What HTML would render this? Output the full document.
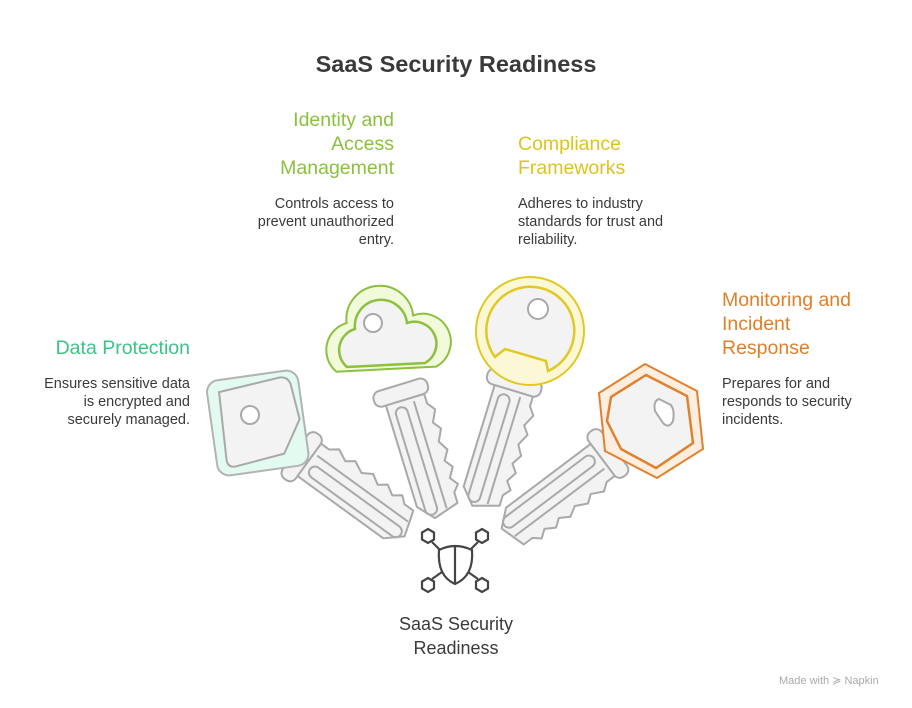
<!DOCTYPE html>
<html><head><meta charset="utf-8"><style>
html,body{margin:0;padding:0;background:#fff;}
body{width:912px;height:708px;position:relative;overflow:hidden;font-family:"Liberation Sans",sans-serif;}
.t{position:absolute;white-space:nowrap;}
.h{font-size:19.5px;line-height:24px;}
.b{font-size:14.5px;line-height:18px;color:#3a3a3a;}
.r{text-align:right;}
</style></head><body>
<svg width="912" height="708" style="position:absolute;left:0;top:0">
<defs>
<g id="shaft">
<rect x="-28" y="46" width="56" height="16" rx="7" fill="#f3f3f3" stroke="#a9a9a9" stroke-width="2"/>
<path d="M-18,62 L-18,168 L-4,184 L22,176 L22,165 L28,158 L22,150 L28,140 L22,132 L28,122 L22,112 L28,100 L22,92 L28,80 L22,72 L22,62 Z" fill="#f3f3f3" stroke="#a9a9a9" stroke-width="2" stroke-linejoin="round"/>
<rect x="-11" y="68" width="12" height="112" rx="6" fill="none" stroke="#a9a9a9" stroke-width="2"/>
<line x1="10" y1="66" x2="10" y2="178" stroke="#a9a9a9" stroke-width="2"/>
</g>
</defs>
<g transform="translate(258,425) rotate(-54)">
<use href="#shaft"/>
<g transform="rotate(54)">
<rect x="-46" y="-50" width="92" height="96" rx="12" fill="#e2faef" stroke="#b3b3b3" stroke-width="2" transform="rotate(-8)"/>
<path d="M-34,-38 L28,-44 Q36,-44 38,-36 L42,0 L22,32 L-28,38 Q-36,38 -36,30 Z" fill="#f3f3f3" stroke="#a9a9a9" stroke-width="2" transform="rotate(-8)"/>
<circle cx="-8" cy="-10" r="9" fill="#fff" stroke="#a9a9a9" stroke-width="2"/>
</g>
</g>
<g transform="translate(385,341) rotate(-17)">
<use href="#shaft"/>
<g transform="rotate(17)">
<path transform="scale(1.28)" vector-effect="non-scaling-stroke" d="M-38,24 A 22 22 0 0 1 -30,-14 A 26 26 0 0 1 22,-20 A 22 22 0 0 1 40,20 Z" fill="#f1fbdc" stroke="#8cc03f" stroke-width="2"/>
<path d="M-38,24 A 22 22 0 0 1 -30,-14 A 26 26 0 0 1 22,-20 A 22 22 0 0 1 40,20 Z" fill="#f3f3f3" stroke="#8cc03f" stroke-width="2.5" transform="translate(0,2)"/>
<circle cx="-12" cy="-18" r="9" fill="#fff" stroke="#a9a9a9" stroke-width="2"/>
</g>
</g>
<g transform="translate(530,331) rotate(17)">
<use href="#shaft"/>
<g transform="rotate(-17)">
<circle r="54" fill="#fcf8d6" stroke="#e2c824" stroke-width="2"/>
<path d="M-35,26 A44 44 0 1 1 18,40 L16,30 L-25,18 Z" fill="#f3f3f3" stroke="#e2c824" stroke-width="2.5"/>
<circle cx="8" cy="-22" r="10" fill="#fff" stroke="#a9a9a9" stroke-width="2"/>
</g>
</g>
<g transform="translate(651,421) rotate(53)">
<use href="#shaft"/>
<g transform="rotate(-53)">
<polygon points="-6,-57 46,-30 52,28 6,57 -46,30 -52,-28" fill="#fdeee0" stroke="#e0812f" stroke-width="2"/>
<polygon points="-5,-46 36,-25 42,22 5,47 -30,28 -44,0 -40,-24" fill="#f3f3f3" stroke="#e0812f" stroke-width="2.5"/>
<path d="M8,-22 L20,-16 Q24,-10 22,0 Q18,8 12,2 L4,-10 Q2,-20 8,-22Z" fill="#fff" stroke="#a9a9a9" stroke-width="2"/>
</g>
</g>
<g fill="none" stroke="#444" stroke-width="2.2">
<polygon points="428,529 434,532.5 434,539.5 428,543 422,539.5 422,532.5"/>
<polygon points="482,529 488,532.5 488,539.5 482,543 476,539.5 476,532.5"/>
<polygon points="428,578 434,581.5 434,588.5 428,592 422,588.5 422,581.5"/>
<polygon points="482,578 488,581.5 488,588.5 482,592 476,588.5 476,581.5"/>
<line x1="432" y1="542" x2="440" y2="550"/><line x1="478" y1="542" x2="470" y2="550"/>
<line x1="432" y1="579" x2="442" y2="572"/><line x1="478" y1="579" x2="468" y2="572"/>
<path d="M439,550 Q455,542 472,550 Q474,576 455,584 Q437,576 439,550 Z"/>
<line x1="455" y1="545" x2="455" y2="584"/>
</g>
</svg>
<div class="t" style="left:0;width:912px;top:51px;text-align:center;font-size:23.5px;font-weight:bold;color:#3a3a3a;">SaaS Security Readiness</div>
<div class="t h r" style="right:518px;top:108px;color:#8cc03f;">Identity and<br>Access<br>Management</div>
<div class="t b r" style="right:518px;top:195px;">Controls access to<br>prevent unauthorized<br>entry.</div>
<div class="t h" style="left:518px;top:132px;color:#dcc41c;">Compliance<br>Frameworks</div>
<div class="t b" style="left:518px;top:195px;">Adheres to industry<br>standards for trust and<br>reliability.</div>
<div class="t h r" style="right:722px;top:336px;color:#3cc486;">Data Protection</div>
<div class="t b r" style="right:722px;top:375px;">Ensures sensitive data<br>is encrypted and<br>securely managed.</div>
<div class="t h" style="left:722px;top:288px;color:#e07f2a;">Monitoring and<br>Incident<br>Response</div>
<div class="t b" style="left:722px;top:375px;">Prepares for and<br>responds to security<br>incidents.</div>
<div class="t" style="left:0;width:912px;top:612px;text-align:center;font-size:18px;line-height:24px;color:#3a3a3a;">SaaS Security<br>Readiness</div>
<div class="t" style="left:779px;top:674px;font-size:11px;color:#aaa;">Made with ≽ Napkin</div>
</body></html>
